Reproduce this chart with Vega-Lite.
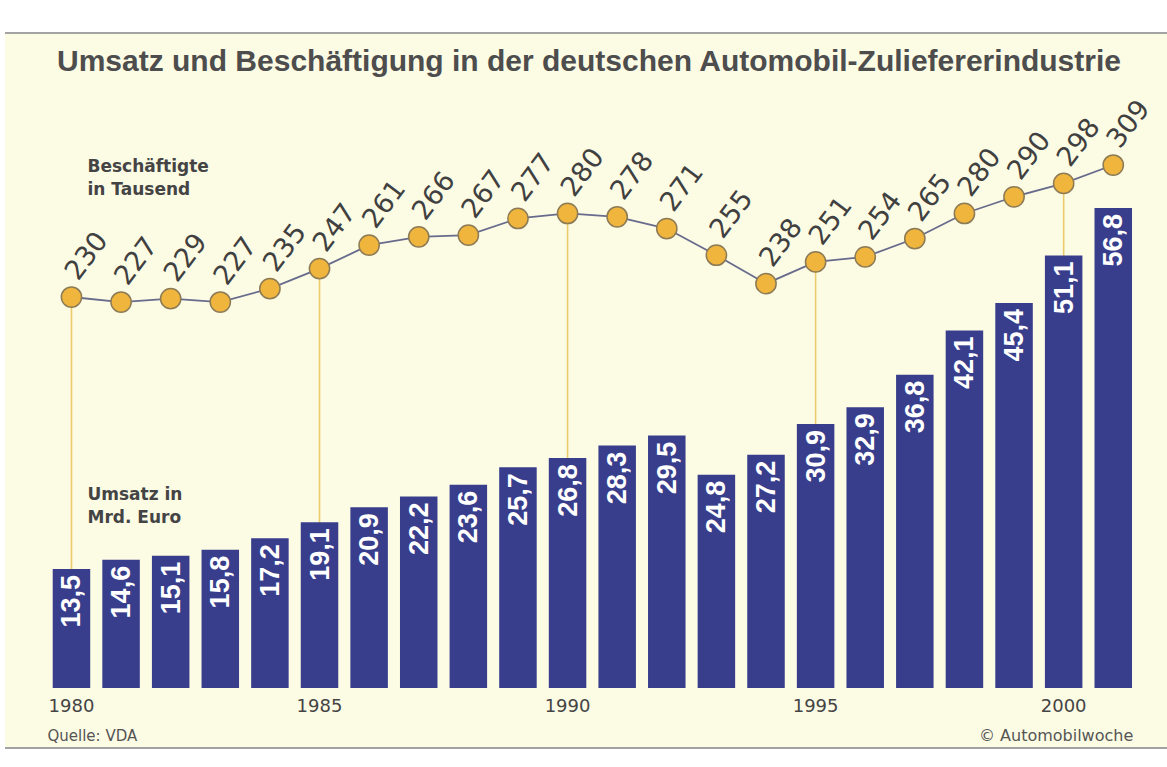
{
  "$schema": "https://vega.github.io/schema/vega-lite/v6.json",
  "autosize": {"type": "none"},
  "width": 1162,
  "height": 715,
  "padding": {"left": 5, "top": 33, "right": 0, "bottom": 19},
  "background": "#ffffff",
  "title": {
    "text": "Umsatz und Beschäftigung in der deutschen Automobil-Zuliefererindustrie",
    "anchor": "start",
    "frame": "group",
    "baseline": "alphabetic",
    "offset": 0,
    "dx": 52,
    "dy": 69,
    "font": "Liberation Sans Narrow, Liberation Sans",
    "fontSize": 30,
    "fontWeight": "bold",
    "color": "#4d4d4d"
  },
  "config": {
    "view": {"fill": "#fcfbe4", "stroke": null},
    "locale": {"number": {"decimal": ",", "thousands": ".", "grouping": [3], "currency": ["", " €"]}}
  },
  "datasets": {
    "d": [
      {"year": 1980, "umsatz": 13.5, "beschaeftigte": 230},
      {"year": 1981, "umsatz": 14.6, "beschaeftigte": 227},
      {"year": 1982, "umsatz": 15.1, "beschaeftigte": 229},
      {"year": 1983, "umsatz": 15.8, "beschaeftigte": 227},
      {"year": 1984, "umsatz": 17.2, "beschaeftigte": 235},
      {"year": 1985, "umsatz": 19.1, "beschaeftigte": 247},
      {"year": 1986, "umsatz": 20.9, "beschaeftigte": 261},
      {"year": 1987, "umsatz": 22.2, "beschaeftigte": 266},
      {"year": 1988, "umsatz": 23.6, "beschaeftigte": 267},
      {"year": 1989, "umsatz": 25.7, "beschaeftigte": 277},
      {"year": 1990, "umsatz": 26.8, "beschaeftigte": 280},
      {"year": 1991, "umsatz": 28.3, "beschaeftigte": 278},
      {"year": 1992, "umsatz": 29.5, "beschaeftigte": 271},
      {"year": 1993, "umsatz": 24.8, "beschaeftigte": 255},
      {"year": 1994, "umsatz": 27.2, "beschaeftigte": 238},
      {"year": 1995, "umsatz": 30.9, "beschaeftigte": 251},
      {"year": 1996, "umsatz": 32.9, "beschaeftigte": 254},
      {"year": 1997, "umsatz": 36.8, "beschaeftigte": 265},
      {"year": 1998, "umsatz": 42.1, "beschaeftigte": 280},
      {"year": 1999, "umsatz": 45.4, "beschaeftigte": 290},
      {"year": 2000, "umsatz": 51.1, "beschaeftigte": 298},
      {"year": 2001, "umsatz": 56.8, "beschaeftigte": 309}
    ],
    "frame": [
      {"edge": "top", "v": 388.0},
      {"edge": "bottom", "v": -39.9}
    ],
    "notesLine": [
      {"year": 1980, "v": 304.8, "label": "Beschäftigte\nin Tausend"}
    ],
    "notesBar": [
      {"year": 1980, "v": 21.8, "label": "Umsatz in\nMrd. Euro"}
    ],
    "footLeft": [
      {"year": 1980, "v": -7.1, "label": "Quelle: VDA"}
    ],
    "footRight": [
      {"year": 2001, "v": -7.1, "label": "© Automobilwoche"}
    ]
  },
  "resolve": {"scale": {"y": "independent"}},
  "layer": [
    {
      "data": {"name": "d"},
      "transform": [{"filter": "datum.year % 5 == 0"}],
      "mark": {"type": "rule", "color": "#eccb6a", "strokeWidth": 1.6},
      "encoding": {
        "x": {
          "field": "year", "type": "ordinal",
          "scale": {"paddingInner": 0.244, "paddingOuter": 0.8335, "align": 0.577, "round": false},
          "axis": {
            "domain": false, "ticks": false, "grid": false, "title": null,
            "labelAngle": 0,
            "labelExpr": "datum.value % 5 == 0 ? datum.label : ''",
            "labelFont": "DejaVu Sans", "labelFontSize": 18, "labelColor": "#444444",
            "offset": -53, "labelPadding": 2
          }
        },
        "y": {"field": "beschaeftigte", "type": "quantitative", "scale": {"domain": [-39.9, 388.0], "nice": false, "zero": false}, "axis": null},
        "y2": {"datum": 0}
      }
    },
    {
      "data": {"name": "frame"},
      "mark": {"type": "rule", "color": "#a3a3a3", "strokeWidth": 2},
      "encoding": {
        "y": {"field": "v", "type": "quantitative", "scale": {"domain": [-39.9, 388.0], "nice": false, "zero": false}, "axis": null}
      }
    },
    {
      "data": {"name": "d"},
      "mark": {"type": "bar", "color": "#383e8c"},
      "encoding": {
        "x": {"field": "year", "type": "ordinal"},
        "y": {"field": "umsatz", "type": "quantitative", "scale": {"domain": [-7.97, 77.79], "nice": false, "zero": false}, "axis": null},
        "y2": {"datum": -0.77}
      }
    },
    {
      "data": {"name": "d"},
      "mark": {"type": "text", "angle": 270, "align": "right", "baseline": "middle", "dx": -6, "dy": 1, "font": "Liberation Sans", "fontWeight": "bold", "fontSize": 27, "color": "#ffffff"},
      "encoding": {
        "x": {"field": "year", "type": "ordinal"},
        "y": {"field": "umsatz", "type": "quantitative", "scale": {"domain": [-7.97, 77.79], "nice": false, "zero": false}, "axis": null},
        "text": {"field": "umsatz", "type": "quantitative", "format": ".1f"}
      }
    },
    {
      "data": {"name": "d"},
      "mark": {"type": "line", "color": "#676b8c", "strokeWidth": 1.8},
      "encoding": {
        "x": {"field": "year", "type": "ordinal"},
        "y": {"field": "beschaeftigte", "type": "quantitative", "scale": {"domain": [-39.9, 388.0], "nice": false, "zero": false}, "axis": null}
      }
    },
    {
      "data": {"name": "d"},
      "mark": {"type": "point", "shape": "circle", "filled": true, "size": 410, "fill": "#f0b53c", "stroke": "#8c7b55", "strokeWidth": 1.5, "opacity": 1},
      "encoding": {
        "x": {"field": "year", "type": "ordinal"},
        "y": {"field": "beschaeftigte", "type": "quantitative", "scale": {"domain": [-39.9, 388.0], "nice": false, "zero": false}, "axis": null}
      }
    },
    {
      "data": {"name": "d"},
      "mark": {"type": "text", "angle": 307, "align": "left", "baseline": "middle", "dx": 16, "dy": -12, "font": "DejaVu Sans", "fontSize": 27, "color": "#404040"},
      "encoding": {
        "x": {"field": "year", "type": "ordinal"},
        "y": {"field": "beschaeftigte", "type": "quantitative", "scale": {"domain": [-39.9, 388.0], "nice": false, "zero": false}, "axis": null},
        "text": {"field": "beschaeftigte", "type": "quantitative", "format": "d"}
      }
    },
    {
      "data": {"name": "notesLine"},
      "mark": {"type": "text", "align": "left", "baseline": "alphabetic", "dx": 16, "lineBreak": "\n", "lineHeight": 23, "font": "DejaVu Sans", "fontWeight": "bold", "fontSize": 17, "color": "#444444"},
      "encoding": {
        "x": {"field": "year", "type": "ordinal"},
        "y": {"field": "v", "type": "quantitative", "scale": {"domain": [-39.9, 388.0], "nice": false, "zero": false}, "axis": null},
        "text": {"field": "label"}
      }
    },
    {
      "data": {"name": "notesBar"},
      "mark": {"type": "text", "align": "left", "baseline": "alphabetic", "dx": 16, "lineBreak": "\n", "lineHeight": 23, "font": "DejaVu Sans", "fontWeight": "bold", "fontSize": 17, "color": "#444444"},
      "encoding": {
        "x": {"field": "year", "type": "ordinal"},
        "y": {"field": "v", "type": "quantitative", "scale": {"domain": [-7.97, 77.79], "nice": false, "zero": false}, "axis": null},
        "text": {"field": "label"}
      }
    },
    {
      "data": {"name": "footLeft"},
      "mark": {"type": "text", "align": "left", "baseline": "alphabetic", "dx": -24, "font": "DejaVu Sans", "fontSize": 15, "color": "#555555"},
      "encoding": {
        "x": {"field": "year", "type": "ordinal"},
        "y": {"field": "v", "type": "quantitative", "scale": {"domain": [-7.97, 77.79], "nice": false, "zero": false}, "axis": null},
        "text": {"field": "label"}
      }
    },
    {
      "data": {"name": "footRight"},
      "mark": {"type": "text", "align": "right", "baseline": "alphabetic", "dx": 20, "font": "DejaVu Sans", "fontSize": 16, "color": "#555555"},
      "encoding": {
        "x": {"field": "year", "type": "ordinal"},
        "y": {"field": "v", "type": "quantitative", "scale": {"domain": [-7.97, 77.79], "nice": false, "zero": false}, "axis": null},
        "text": {"field": "label"}
      }
    }
  ]
}
